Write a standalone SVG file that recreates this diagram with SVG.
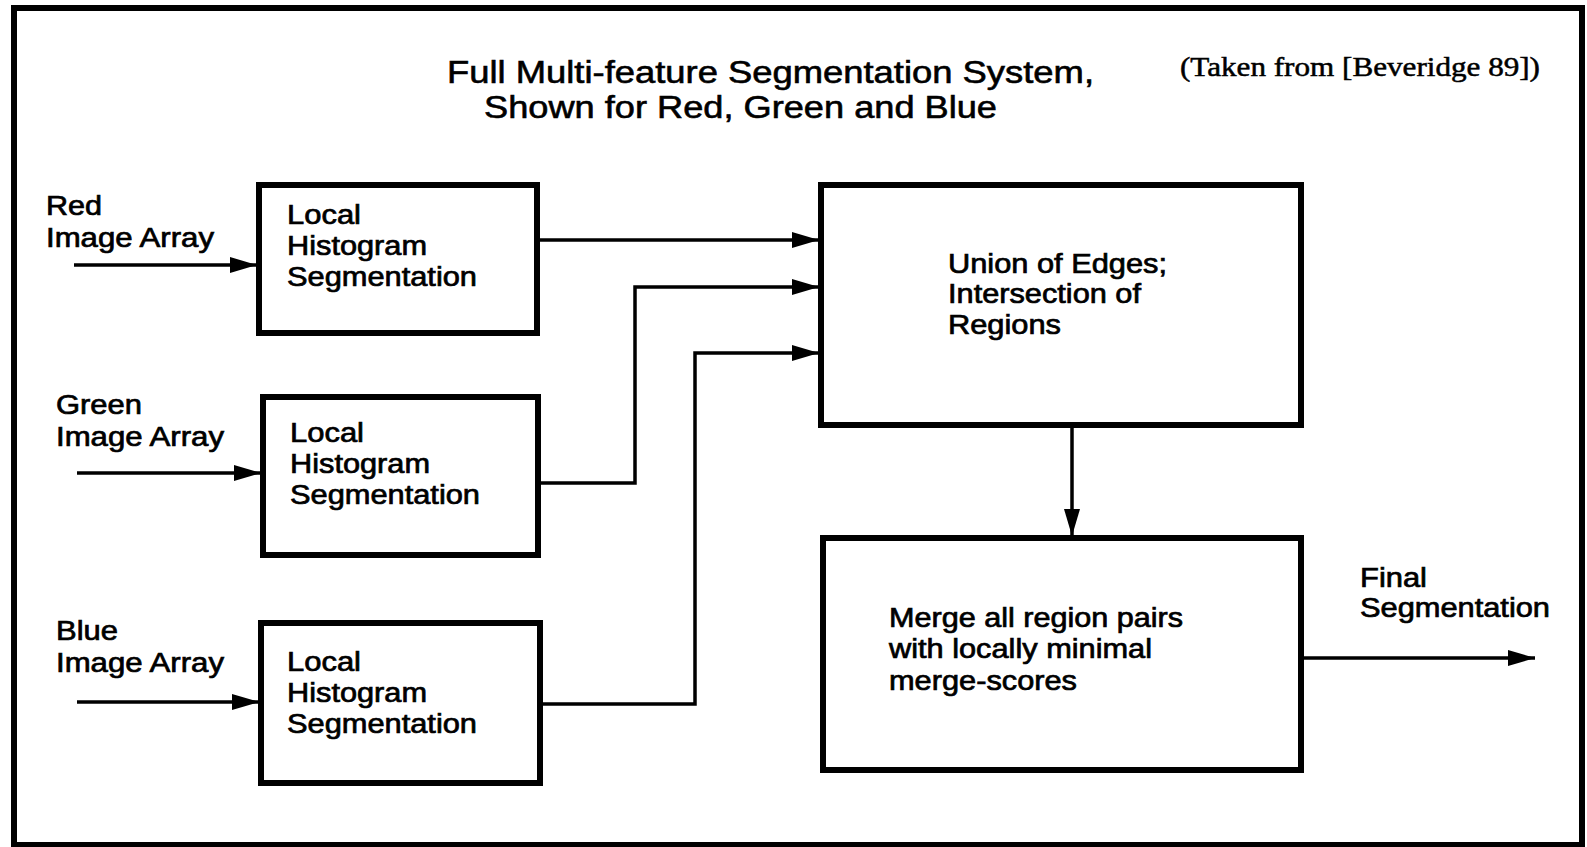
<svg xmlns="http://www.w3.org/2000/svg" width="1587" height="847" viewBox="0 0 1587 847">
<style>
.box{fill:#fff;stroke:#000;stroke-width:6}
.ln{fill:none;stroke:#000;stroke-width:3.5}
.t{font-family:"Liberation Sans",Arial,sans-serif;font-size:27px;fill:#000;stroke:#000;stroke-width:0.7}
.ttl{font-family:"Liberation Sans",Arial,sans-serif;font-size:31px;fill:#000;stroke:#000;stroke-width:0.6}
.src{font-family:"Liberation Serif","Times New Roman",serif;font-size:27px;fill:#000;stroke:#000;stroke-width:0.5}
</style>
<defs>
<marker id="ah" markerUnits="userSpaceOnUse" markerWidth="28" markerHeight="18" refX="27" refY="8" orient="auto">
<path d="M0,0 L27,8 L0,16 z" fill="#000"/>
</marker>
</defs>
<rect x="0" y="0" width="1587" height="847" fill="#fff"/>
<rect id="frame" x="14" y="8" width="1568" height="837" fill="none" stroke="#000" stroke-width="6"/>
<g id="title">
<text class="ttl" x="447" y="83" textLength="647" lengthAdjust="spacingAndGlyphs">Full Multi-feature Segmentation System,</text>
<text class="ttl" x="484" y="118" textLength="513" lengthAdjust="spacingAndGlyphs">Shown for Red, Green and Blue</text>
<text class="src" x="1180" y="76" textLength="360" lengthAdjust="spacingAndGlyphs">(Taken from [Beveridge 89])</text>
</g>
<g id="labels">
<text class="t" x="46" y="215" textLength="56" lengthAdjust="spacingAndGlyphs">Red</text>
<text class="t" x="46" y="247" textLength="168" lengthAdjust="spacingAndGlyphs">Image Array</text>
<text class="t" x="56" y="414" textLength="86" lengthAdjust="spacingAndGlyphs">Green</text>
<text class="t" x="56" y="446" textLength="168" lengthAdjust="spacingAndGlyphs">Image Array</text>
<text class="t" x="56" y="640" textLength="62" lengthAdjust="spacingAndGlyphs">Blue</text>
<text class="t" x="56" y="672" textLength="168" lengthAdjust="spacingAndGlyphs">Image Array</text>
<text class="t" x="1360" y="587" textLength="67" lengthAdjust="spacingAndGlyphs">Final</text>
<text class="t" x="1360" y="617" textLength="190" lengthAdjust="spacingAndGlyphs">Segmentation</text>
</g>
<g id="red-lhs">
<rect class="box" x="259" y="185" width="278" height="148"/>
<text class="t" x="287" y="224" textLength="74" lengthAdjust="spacingAndGlyphs">Local</text>
<text class="t" x="287" y="255" textLength="140" lengthAdjust="spacingAndGlyphs">Histogram</text>
<text class="t" x="287" y="286" textLength="190" lengthAdjust="spacingAndGlyphs">Segmentation</text>
</g>
<g id="green-lhs">
<rect class="box" x="263" y="397" width="275" height="158"/>
<text class="t" x="290" y="442" textLength="74" lengthAdjust="spacingAndGlyphs">Local</text>
<text class="t" x="290" y="473" textLength="140" lengthAdjust="spacingAndGlyphs">Histogram</text>
<text class="t" x="290" y="504" textLength="190" lengthAdjust="spacingAndGlyphs">Segmentation</text>
</g>
<g id="blue-lhs">
<rect class="box" x="261" y="623" width="279" height="160"/>
<text class="t" x="287" y="671" textLength="74" lengthAdjust="spacingAndGlyphs">Local</text>
<text class="t" x="287" y="702" textLength="140" lengthAdjust="spacingAndGlyphs">Histogram</text>
<text class="t" x="287" y="733" textLength="190" lengthAdjust="spacingAndGlyphs">Segmentation</text>
</g>
<g id="union">
<rect class="box" x="821" y="185" width="480" height="240"/>
<text class="t" x="948" y="273" textLength="219" lengthAdjust="spacingAndGlyphs">Union of Edges;</text>
<text class="t" x="948" y="303" textLength="193" lengthAdjust="spacingAndGlyphs">Intersection of</text>
<text class="t" x="948" y="334" textLength="113" lengthAdjust="spacingAndGlyphs">Regions</text>
</g>
<g id="merge">
<rect class="box" x="823" y="538" width="478" height="232"/>
<text class="t" x="889" y="627" textLength="294" lengthAdjust="spacingAndGlyphs">Merge all region pairs</text>
<text class="t" x="889" y="658" textLength="263" lengthAdjust="spacingAndGlyphs">with locally minimal</text>
<text class="t" x="889" y="690" textLength="188" lengthAdjust="spacingAndGlyphs">merge-scores</text>
</g>
<g id="connectors">
<line class="ln" x1="74" y1="265" x2="257" y2="265" marker-end="url(#ah)"/>
<line class="ln" x1="77" y1="473" x2="261" y2="473" marker-end="url(#ah)"/>
<line class="ln" x1="77" y1="702" x2="259" y2="702" marker-end="url(#ah)"/>
<line class="ln" x1="537" y1="240" x2="819" y2="240" marker-end="url(#ah)"/>
<polyline class="ln" points="540,483 635,483 635,287 819,287" marker-end="url(#ah)"/>
<polyline class="ln" points="542,704 695,704 695,353 819,353" marker-end="url(#ah)"/>
<line class="ln" x1="1072" y1="428" x2="1072" y2="536" marker-end="url(#ah)"/>
<line class="ln" x1="1304" y1="658" x2="1535" y2="658" marker-end="url(#ah)"/>
</g>
</svg>
